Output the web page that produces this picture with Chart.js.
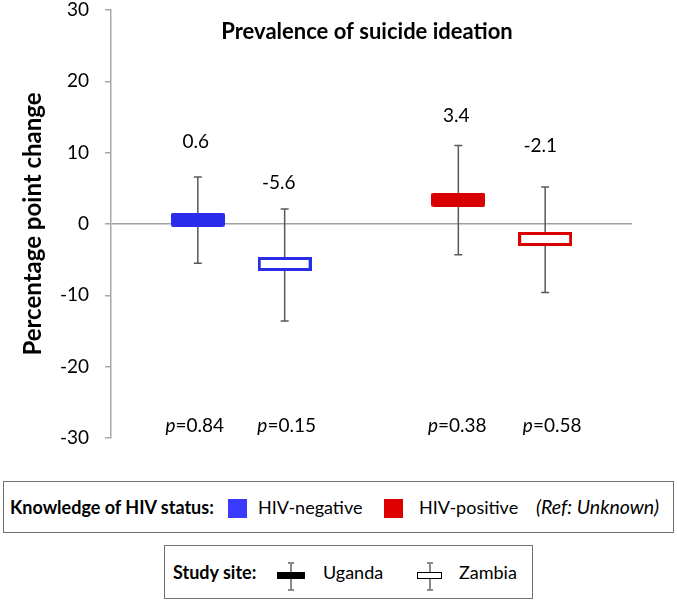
<!DOCTYPE html>
<html>
<head>
<meta charset="utf-8">
<script src="https://cdn.jsdelivr.net/npm/chart.js@4.4.0/dist/chart.umd.min.js"></script>
<style>
html,body{margin:0;padding:0;background:#fff;}
#wrap{position:relative;width:677px;height:602px;font-family:Lato,"Open Sans",sans-serif;color:#000;overflow:hidden;}
#c{position:absolute;left:0;top:0;}
.box{position:absolute;border:1.5px solid #707070;box-sizing:border-box;background:#fff;}
.t{position:absolute;white-space:nowrap;font-size:18px;line-height:20px;height:20px;}
.b{font-weight:bold;}
.i{font-style:italic;font-size:19.5px;}
.sq{position:absolute;width:19px;height:19px;box-sizing:border-box;}
.wh{position:absolute;width:1.5px;background:#8a8a8a;}
.cap{position:absolute;height:1.5px;width:6px;background:#8a8a8a;}
.bar{position:absolute;height:7px;box-sizing:border-box;}
</style>
</head>
<body>
<div id="wrap">
<canvas id="c" width="677" height="602"></canvas>
<div class="box" style="left:3px;top:481px;width:671px;height:52px;"></div>
<div class="t b" id="lgTitle1" style="left:10px;top:497px;"></div>
<div class="sq" id="sq0" style="left:228px;top:499px;"></div>
<div class="t" id="lgHiv0" style="left:258px;top:497px;"></div>
<div class="sq" id="sq1" style="left:384px;top:499px;"></div>
<div class="t" id="lgHiv1" style="left:419px;top:497px;"></div>
<div class="t i" id="lgRef" style="left:536px;top:497px;"></div>

<div class="box" style="left:164px;top:545px;width:369px;height:54px;"></div>
<div class="t b" id="lgTitle2" style="left:173px;top:562px;"></div>
<div class="wh" style="left:290px;top:562px;height:28px;"></div>
<div class="cap" style="left:287.5px;top:562px;"></div>
<div class="cap" style="left:287.5px;top:589px;"></div>
<div class="bar" style="left:277px;top:572px;width:28px;background:#000;"></div>
<div class="t" id="lgSite0" style="left:323px;top:562px;"></div>
<div class="wh" style="left:429px;top:562px;height:28px;"></div>
<div class="cap" style="left:426.5px;top:562px;"></div>
<div class="cap" style="left:426.5px;top:589px;"></div>
<div class="bar" style="left:417px;top:572px;width:25px;background:#fff;border:1.5px solid #000;"></div>
<div class="t" id="lgSite1" style="left:459px;top:562px;"></div>
</div>
<script>
// ---------- data ----------
const chartTitle = 'Prevalence of suicide ideation';
const yAxisTitle = 'Percentage point change';
const axisLabels = ['', 'Uganda HIV-negative', 'Zambia HIV-negative', ' ', 'Uganda HIV-positive', 'Zambia HIV-positive', '  '];
const categories = ['Uganda HIV-negative', 'Zambia HIV-negative', 'Uganda HIV-positive', 'Zambia HIV-positive'];
const estimate = [0.6, -5.6, 3.4, -2.1];
const lowerCI = [-5.5, -13.6, -4.3, -9.6];
const upperCI = [6.6, 2.1, 11.0, 5.2];
const pValues = ['0.84', '0.15', '0.38', '0.58'];
const yTicks = [-30, -20, -10, 0, 10, 20, 30];
const hivGroups = ['HIV-negative', 'HIV-positive'];
const sites = ['Uganda', 'Zambia'];
const legendTitle1 = 'Knowledge of HIV status:';
const legendTitle2 = 'Study site:';
const refNote = '(Ref: Unknown)';

// ---------- styles ----------
const hivColor = ['#2b2bea', '#d80000'];
const hivLegendColor = ['#3a3aff', '#dd0000'];
const catHiv = [0, 0, 1, 1];
const catSite = [0, 1, 0, 1];
const labelLift = [35, 26, 30, 41];
const labelDx = [-5, -9, -5, -8];
const pDx = [-3, 2, -1, 7];
const FONT = 'Lato, "Open Sans", sans-serif';

// legend text
document.getElementById('lgTitle1').textContent = legendTitle1;
document.getElementById('lgHiv0').textContent = hivGroups[0];
document.getElementById('lgHiv1').textContent = hivGroups[1];
document.getElementById('lgRef').textContent = refNote;
document.getElementById('lgTitle2').textContent = legendTitle2;
document.getElementById('lgSite0').textContent = sites[0];
document.getElementById('lgSite1').textContent = sites[1];
document.getElementById('sq0').style.background = hivLegendColor[0];
document.getElementById('sq1').style.background = hivLegendColor[1];

function makeBox(color, filled) {
  const w = 54, h = 14;
  const c = document.createElement('canvas');
  c.width = w; c.height = h;
  const g = c.getContext('2d');
  if (filled) {
    g.fillStyle = color;
    g.beginPath();
    g.roundRect(0, 0, w, h, 2);
    g.fill();
  } else {
    g.fillStyle = '#fff';
    g.fillRect(0, 0, w, h);
    g.strokeStyle = color;
    g.lineWidth = 3;
    g.strokeRect(1.5, 1.5, w - 3, h - 3);
  }
  return c;
}
const boxImages = categories.map((c, i) => makeBox(hivColor[catHiv[i]], catSite[i] === 0));

const datasets = [];
datasets.push({
  label: 'estimate',
  data: categories.map((c, i) => ({ x: c, y: estimate[i] })),
  showLine: false,
  pointStyle: boxImages,
  pointRadius: 5,
  pointHoverRadius: 5
});
categories.forEach((c, i) => {
  datasets.push({
    label: 'ci ' + c,
    data: [{ x: c, y: lowerCI[i] }, { x: c, y: upperCI[i] }],
    showLine: true,
    borderColor: '#585858',
    borderWidth: 1.5,
    pointStyle: 'line',
    pointRadius: 4,
    pointHoverRadius: 4,
    pointBorderColor: '#585858',
    pointBorderWidth: 1.5
  });
});

const annot = {
  id: 'annot',
  afterDatasetsDraw(chart) {
    const ctx = chart.ctx;
    const xs = chart.scales.x, ys = chart.scales.y;
    const ca = chart.chartArea;
    ctx.save();
    ctx.fillStyle = '#000';
    ctx.textBaseline = 'middle';
    // title
    ctx.textAlign = 'center';
    ctx.font = 'bold 22px ' + FONT;
    ctx.fillText(chartTitle, 367, 32);
    // value labels
    ctx.font = '19px ' + FONT;
    categories.forEach((c, i) => {
      const px = xs.getPixelForValue(axisLabels.indexOf(c));
      const py = ys.getPixelForValue(upperCI[i]);
      ctx.fillText(estimate[i].toFixed(1), px + labelDx[i] + 3, py - labelLift[i]);
    });
    // p-values
    categories.forEach((c, i) => {
      const px = xs.getPixelForValue(axisLabels.indexOf(c)) + pDx[i];
      ctx.font = 'italic 19px ' + FONT;
      const w1 = ctx.measureText('p').width;
      ctx.font = '19px ' + FONT;
      const rest = '=' + pValues[i];
      const w2 = ctx.measureText(rest).width;
      const x0 = px - (w1 + w2) / 2;
      const y = ca.bottom - 12;
      ctx.textAlign = 'left';
      ctx.font = 'italic 19px ' + FONT;
      ctx.fillText('p', x0, y);
      ctx.font = '19px ' + FONT;
      ctx.fillText(rest, x0 + w1, y);
    });
    ctx.restore();
  }
};

new Chart(document.getElementById('c'), {
  type: 'line',
  data: { labels: axisLabels, datasets },
  options: {
    responsive: false,
    devicePixelRatio: 1,
    animation: false,
    events: [],
    layout: { padding: { left: 0, right: 45, top: 10, bottom: 164 } },
    plugins: { legend: { display: false }, tooltip: { enabled: false }, title: { display: false } },
    scales: {
      x: { type: 'category', labels: axisLabels, offset: false, display: false },
      y: {
        min: -30, max: 30,
        afterBuildTicks(s) { s.ticks = yTicks.map(v => ({ value: v })); },
        afterFit(s) { s.width = 111; s.paddingTop = 0; s.paddingBottom = 0; },
        ticks: { color: '#000', font: { family: FONT, size: 19 }, padding: 16 },
        grid: {
          color: (ctx) => ctx.tick && ctx.tick.value === 0 ? '#a0a0a0' : 'rgba(0,0,0,0)',
          tickColor: '#a8a8a8',
          lineWidth: 1.5,
          tickLength: 6,
          drawTicks: true
        },
        border: { display: true, color: '#a8a8a8', width: 1.5 },
        title: {
          display: true, text: yAxisTitle, color: '#000',
          font: { family: FONT, size: 24, weight: 'bold' },
          padding: { top: 19, bottom: 0 }
        }
      }
    }
  },
  plugins: [annot]
});
</script>
</body>
</html>
